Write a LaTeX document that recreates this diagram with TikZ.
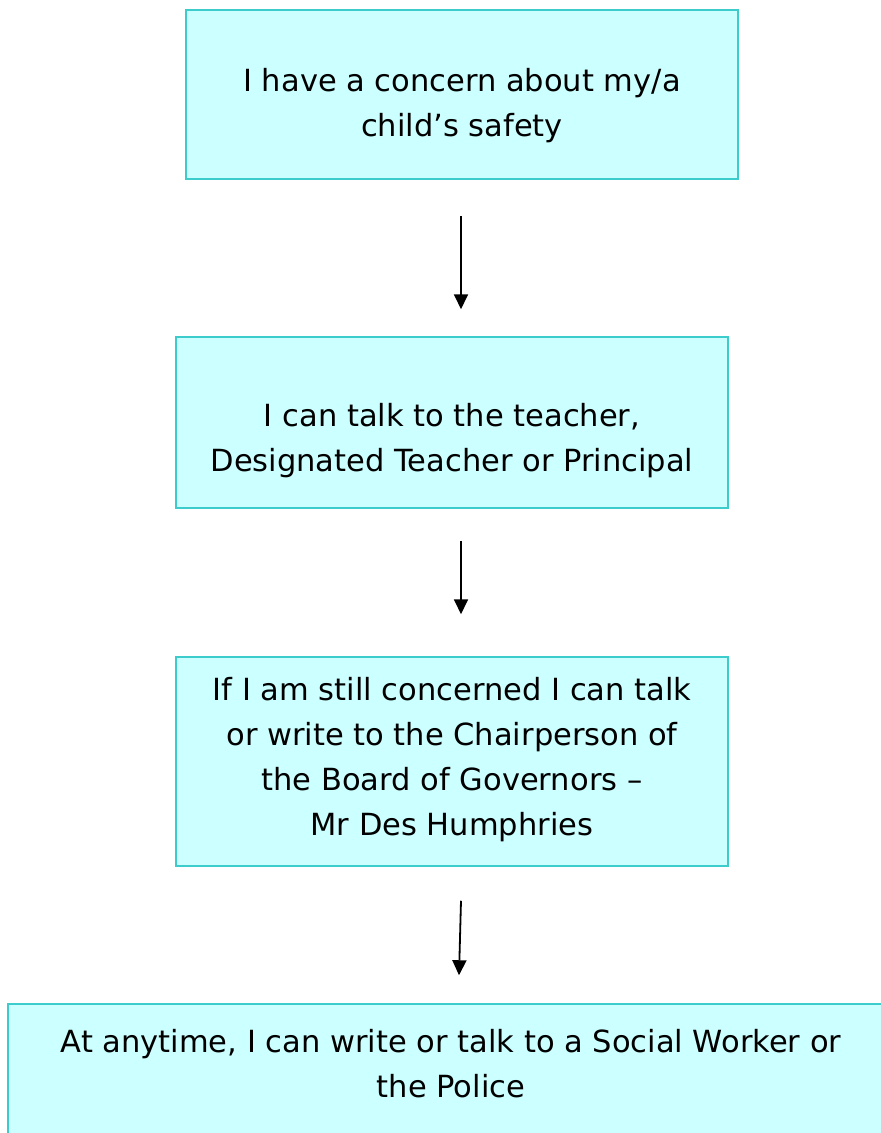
\documentclass[tikz,border=0pt]{standalone}
\usepackage{fontspec}
\setmainfont{DejaVu Sans}
\usetikzlibrary{arrows.meta}
\definecolor{boxfill}{RGB}{204,255,255}
\definecolor{boxline}{RGB}{60,204,204}
\begin{document}
\begin{tikzpicture}[x = 1pt, y = -1pt,
        stepbox/.style = {draw = boxline, fill = boxfill, line width = 1.5pt, inner sep = 0pt},
        steptext/.style = {align = center, inner sep = 0pt, font = {\fontsize{30.5}{45}\selectfont}},
        flow/.style = {line width = 1.8pt, -{Triangle[width = 14pt, length = 15pt]}}]
        \useasboundingbox (0,0) rectangle (881,1133);
        % boxes
        \node[stepbox, minimum width = 552pt, minimum height = 169pt] (concern) at (462,94.5) {};
        \node[stepbox, minimum width = 552pt, minimum height = 171pt] (talk) at (452,422.5) {};
        \node[stepbox, minimum width = 552pt, minimum height = 209pt] (chair) at (452,761.5) {};
        \node[stepbox, minimum width = 882pt, minimum height = 140pt] (police) at (449,1074) {};

        % texts
        \node[steptext] (concerntext) at (462,106) {I have a concern about my/a\\child’s safety};
        \node[steptext] (talktext) at (452,441) {I can talk to the teacher,\\Designated Teacher or Principal};
        \node[steptext] (chairtext) at (452,760) {If I am still concerned I can talk\\or write to the Chairperson of\\the Board of Governors –\\Mr Des Humphries};
        \node[steptext] (policetext) at (451,1064) {At anytime, I can write or talk to a Social Worker or\\the Police};

        % arrows
        \draw[flow] ([xshift = -1pt, yshift = -36pt]concern.south) -- ([xshift = 9pt, yshift = 27pt]talk.north);
        \draw[flow] ([xshift = 9pt, yshift = -32pt]talk.south) -- ([xshift = 9pt, yshift = 42pt]chair.north);
        \draw[flow] ([xshift = 9pt, yshift = -34pt]chair.south) -- ([xshift = 10pt, yshift = 28pt]police.north);
    \end{tikzpicture}
\end{document}
